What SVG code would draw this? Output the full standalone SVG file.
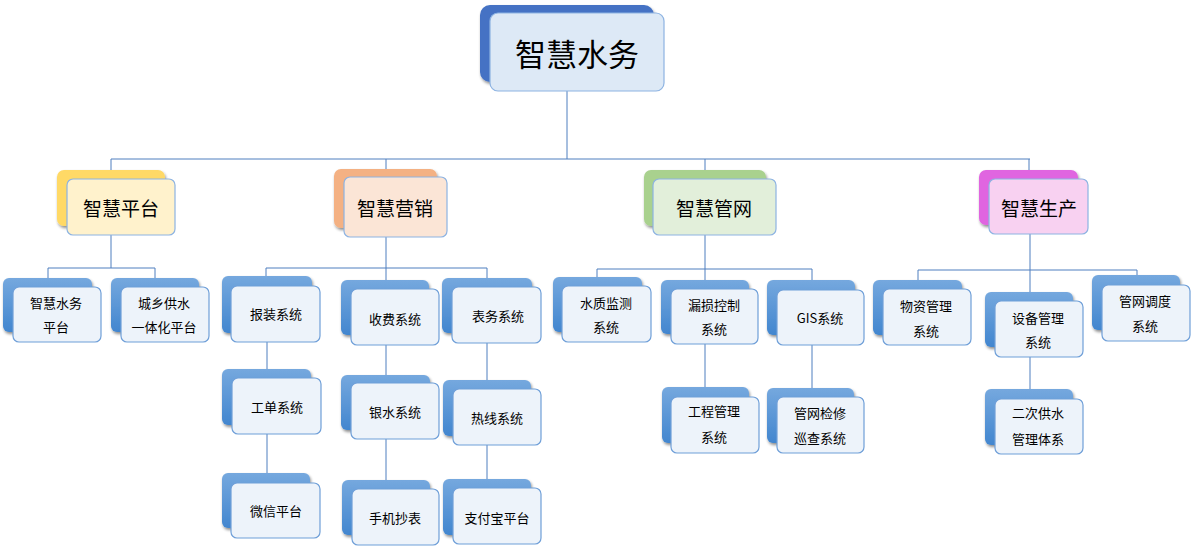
<svg xmlns="http://www.w3.org/2000/svg" width="1194" height="553" viewBox="0 0 1194 553">
<defs>
<linearGradient id="gb" x1="0" y1="0" x2="0" y2="1"><stop offset="0" stop-color="#75a8de"/><stop offset="1" stop-color="#4286cf"/></linearGradient>
<filter id="sh" x="-10%" y="-10%" width="130%" height="130%"><feGaussianBlur in="SourceAlpha" stdDeviation="1.5"/><feOffset dx="1" dy="2"/><feComponentTransfer><feFuncA type="linear" slope="0.45"/></feComponentTransfer><feMerge><feMergeNode/><feMergeNode in="SourceGraphic"/></feMerge></filter>
</defs>
<style>
.bk{fill:url(#gb);filter:url(#sh)}
.fr{fill:#edf3fa;stroke:#6f9fd8;stroke-width:1.2}
.fr2{stroke:#8db3e2;stroke-width:1.2}
.t{font-family:"Noto Sans CJK SC","Microsoft YaHei",sans-serif;fill:#000;text-anchor:middle;dominant-baseline:central}
.s{font-size:13px}
.m{font-size:19px}
.c{fill:none;stroke:#4f7fbf;stroke-width:1}
</style>
<rect width="1194" height="553" fill="#fff"/>
<g id="connectors">
<path class="c" d="M567 91V159M111 159H1030M111 159V179M386 159V177M705 159V179M1029 159V179"/>
<path class="c" d="M111 234V268M48 268H155M48 268V278M155 268V278"/>
<path class="c" d="M386 237V268M266 268H487M266 268V276M386 268V280M487 268V278"/>
<path class="c" d="M267 342V378M267 434V483M386 345V383M386 439V489M487 343V389M487 445V488"/>
<path class="c" d="M705 235V269M597 269H812M597 269V277M705 269V280M812 269V280"/>
<path class="c" d="M705 344V397M812 345V397"/>
<path class="c" d="M1030 234V270M918 270H1137M918 270V280M1030 270V292M1137 270V275M1030 357V399"/>
</g>
<g id="n-root">
<rect x="480" y="5" width="174" height="77" rx="10" fill="#4472c4" filter="url(#sh)"/>
<rect x="490" y="13" width="174" height="78" rx="8" class="fr2" fill="#dde9f6"/>
<text x="577" y="52" class="t" font-size="31">智慧水务</text>
</g>
<g id="n-pt">
<rect x="57" y="170" width="108" height="56" rx="7" fill="#ffd966" filter="url(#sh)"/>
<rect x="67" y="179" width="108" height="56" rx="6" class="fr2" fill="#fff2cc"/>
<text x="121" y="207" class="t m">智慧平台</text>
</g>
<g id="n-yx">
<rect x="334" y="169" width="103" height="59" rx="7" fill="#f4b183" filter="url(#sh)"/>
<rect x="344" y="177" width="103" height="60" rx="6" class="fr2" fill="#fbe5d6"/>
<text x="395" y="207" class="t m">智慧营销</text>
</g>
<g id="n-gw">
<rect x="644" y="170" width="122" height="56" rx="7" fill="#a9d18e" filter="url(#sh)"/>
<rect x="653" y="179" width="123" height="56" rx="6" class="fr2" fill="#e2efda"/>
<text x="714" y="207" class="t m">智慧管网</text>
</g>
<g id="n-sc">
<rect x="979" y="170" width="99" height="55" rx="7" fill="#e065e0" filter="url(#sh)"/>
<rect x="989" y="179" width="99" height="55" rx="6" class="fr2" fill="#f8d1f1"/>
<text x="1039" y="207" class="t m">智慧生产</text>
</g>
<g id="n-zhsw">
<rect x="3" y="278" width="89" height="54" rx="6" class="bk"/>
<rect x="13" y="287" width="88" height="55" rx="6" class="fr"/>
<text x="56" y="302" class="t s">智慧水务</text><text x="56" y="326" class="t s">平台</text>
</g>
<g id="n-cx">
<rect x="111" y="278" width="88" height="54" rx="6" class="bk"/>
<rect x="121" y="287" width="88" height="55" rx="6" class="fr"/>
<text x="164" y="302" class="t s">城乡供水</text><text x="164" y="326" class="t s">一体化平台</text>
</g>
<g id="n-bz">
<rect x="222" y="276" width="90" height="57" rx="6" class="bk"/>
<rect x="231" y="286" width="89" height="56" rx="6" class="fr"/>
<text x="276" y="313" class="t s">报装系统</text>
</g>
<g id="n-sf">
<rect x="341" y="280" width="88" height="55" rx="6" class="bk"/>
<rect x="351" y="289" width="88" height="56" rx="6" class="fr"/>
<text x="395" y="318" class="t s">收费系统</text>
</g>
<g id="n-bw">
<rect x="442" y="278" width="90" height="55" rx="6" class="bk"/>
<rect x="452" y="287" width="89" height="56" rx="6" class="fr"/>
<text x="498" y="315" class="t s">表务系统</text>
</g>
<g id="n-gd">
<rect x="222" y="369" width="89" height="56" rx="6" class="bk"/>
<rect x="232" y="378" width="89" height="56" rx="6" class="fr"/>
<text x="277" y="406" class="t s">工单系统</text>
</g>
<g id="n-wx">
<rect x="222" y="473" width="88" height="55" rx="6" class="bk"/>
<rect x="231" y="483" width="89" height="55" rx="6" class="fr"/>
<text x="276" y="510" class="t s">微信平台</text>
</g>
<g id="n-ys">
<rect x="341" y="375" width="89" height="55" rx="6" class="bk"/>
<rect x="351" y="383" width="88" height="56" rx="6" class="fr"/>
<text x="395" y="411" class="t s">银水系统</text>
</g>
<g id="n-sj">
<rect x="342" y="480" width="88" height="55" rx="6" class="bk"/>
<rect x="352" y="489" width="87" height="56" rx="6" class="fr"/>
<text x="395" y="517" class="t s">手机抄表</text>
</g>
<g id="n-rx">
<rect x="443" y="380" width="88" height="56" rx="6" class="bk"/>
<rect x="453" y="389" width="88" height="56" rx="6" class="fr"/>
<text x="497" y="417" class="t s">热线系统</text>
</g>
<g id="n-zfb">
<rect x="443" y="479" width="88" height="56" rx="6" class="bk"/>
<rect x="453" y="488" width="88" height="56" rx="6" class="fr"/>
<text x="497" y="517" class="t s">支付宝平台</text>
</g>
<g id="n-szjc">
<rect x="553" y="277" width="89" height="55" rx="6" class="bk"/>
<rect x="562" y="286" width="89" height="56" rx="6" class="fr"/>
<text x="606" y="302" class="t s">水质监测</text><text x="606" y="326" class="t s">系统</text>
</g>
<g id="n-lskz">
<rect x="661" y="280" width="88" height="54" rx="6" class="bk"/>
<rect x="671" y="289" width="87" height="55" rx="6" class="fr"/>
<text x="714" y="304" class="t s">漏损控制</text><text x="714" y="328" class="t s">系统</text>
</g>
<g id="n-gis">
<rect x="767" y="280" width="88" height="55" rx="6" class="bk"/>
<rect x="777" y="290" width="87" height="55" rx="6" class="fr"/>
<text x="820" y="317" class="t s">GIS系统</text>
</g>
<g id="n-gcgl">
<rect x="662" y="387" width="87" height="56" rx="6" class="bk"/>
<rect x="671" y="397" width="88" height="56" rx="6" class="fr"/>
<text x="714" y="410" class="t s">工程管理</text><text x="714" y="436" class="t s">系统</text>
</g>
<g id="n-gwjx">
<rect x="767" y="388" width="87" height="55" rx="6" class="bk"/>
<rect x="777" y="397" width="87" height="56" rx="6" class="fr"/>
<text x="820" y="412" class="t s">管网检修</text><text x="820" y="437" class="t s">巡查系统</text>
</g>
<g id="n-wzgl">
<rect x="873" y="280" width="89" height="55" rx="6" class="bk"/>
<rect x="883" y="289" width="88" height="56" rx="6" class="fr"/>
<text x="926" y="305" class="t s">物资管理</text><text x="926" y="330" class="t s">系统</text>
</g>
<g id="n-sbgl">
<rect x="985" y="292" width="88" height="55" rx="6" class="bk"/>
<rect x="995" y="301" width="88" height="56" rx="6" class="fr"/>
<text x="1038" y="317" class="t s">设备管理</text><text x="1038" y="341" class="t s">系统</text>
</g>
<g id="n-gwdd">
<rect x="1092" y="275" width="88" height="55" rx="6" class="bk"/>
<rect x="1102" y="285" width="88" height="56" rx="6" class="fr"/>
<text x="1145" y="300" class="t s">管网调度</text><text x="1145" y="325" class="t s">系统</text>
</g>
<g id="n-ecgs">
<rect x="985" y="389" width="88" height="56" rx="6" class="bk"/>
<rect x="995" y="399" width="88" height="55" rx="6" class="fr"/>
<text x="1038" y="412" class="t s">二次供水</text><text x="1038" y="438" class="t s">管理体系</text>
</g>
</svg>
